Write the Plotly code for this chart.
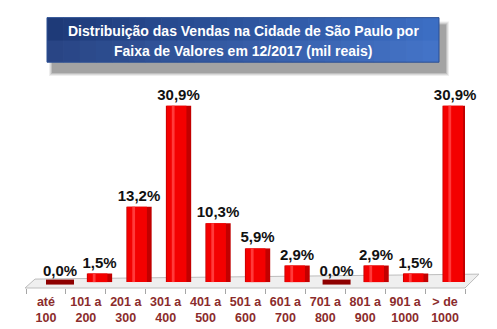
import plotly.graph_objects as go

# ---- data ----
categories = ["até<br>100", "101 a<br>200", "201 a<br>300", "301 a<br>400", "401 a<br>500",
              "501 a<br>600", "601 a<br>700", "701 a<br>800", "801 a<br>900", "901 a<br>1000",
              "> de<br>1000"]
values = [0.0, 1.5, 13.2, 30.9, 10.3, 5.9, 2.9, 0.0, 2.9, 1.5, 30.9]
value_labels = [f"{v:.1f}".replace(".", ",") + "%" for v in values]
title_lines = ["Distribuição das Vendas na Cidade de São Paulo por",
               "Faixa de Valores em 12/2017 (mil reais)"]

W, H = 497, 329
PX0, PX1, PY0, PY1 = 18, 457, 74, 282   # plot area in pixels


def px(x):
    return (x - PX0) / (PX1 - PX0)


def py(y):
    return (PY1 - y) / (PY1 - PY0)


fig = go.Figure()

# cylinder-like shading: dark body, bright core, light highlight
fig.add_trace(go.Bar(
    x=categories, y=values, text=value_labels, textposition="outside",
    constraintext="none", width=0.64,
    textfont=dict(family="Liberation Sans, Arial", size=15, color="#111111", weight="bold"),
    marker=dict(color="#C20000", line=dict(width=0)),
    cliponaxis=False, hoverinfo="skip", showlegend=False,
))
fig.add_trace(go.Bar(
    x=categories, y=values, width=0.50, offset=-0.30,
    marker=dict(color="#F40000", line=dict(width=0)),
    hoverinfo="skip", showlegend=False,
))
fig.add_trace(go.Bar(
    x=categories, y=values, width=0.07, offset=-0.17,
    marker=dict(color="#FF3A3A", line=dict(width=0)),
    hoverinfo="skip", showlegend=False,
))

# flat discs for zero-valued categories
zx = [c for c, v in zip(categories, values) if v == 0]
zy = [v for v in values if v == 0]
fig.add_trace(go.Scatter(
    x=zx, y=zy, mode="markers",
    marker=dict(symbol="line-ew", size=20, line=dict(color="#8E0000", width=5)),
    cliponaxis=False, hoverinfo="skip", showlegend=False,
))

# helper trace for the front tick axis
fig.add_trace(go.Scatter(
    x=categories, y=values, xaxis="x2", mode="markers",
    marker=dict(opacity=0), hoverinfo="skip", showlegend=False,
))

shapes = []
# floor
shapes.append(dict(
    type="path", xref="paper", yref="paper", layer="below",
    path=(f"M {px(17)} {py(282)} L {px(457)} {py(282)} L {px(471)} {py(268)} "
          f"L {px(27)} {py(273)} Z"),
    fillcolor="#EFEFEF", line=dict(color="#BDBDBD", width=1),
))
# title shadow
for i, op in enumerate([0.10, 0.14, 0.20, 0.28]):
    shapes.append(dict(type="rect", xref="paper", yref="paper", layer="below",
                       x0=px(41 + i), x1=px(441 - i), y0=py(13 + i), y1=py(68 - i),
                       fillcolor=f"rgba(90,90,90,{op})", line=dict(width=0)))
# title box gradient
n = 24
x_start, x_end = 39, 431
c0 = (30, 58, 120)
c1 = (60, 110, 195)
for i in range(n):
    t = i / (n - 1)
    col = tuple(int(round(a + (b - a) * t)) for a, b in zip(c0, c1))
    xa = x_start + (x_end - x_start) * i / n
    xb = x_start + (x_end - x_start) * (i + 1) / n + 0.6
    shapes.append(dict(type="rect", xref="paper", yref="paper",
                       x0=px(xa), x1=px(min(xb, x_end)), y0=py(54), y1=py(9),
                       fillcolor=f"rgb{col}", line=dict(width=0)))
shapes.append(dict(type="rect", xref="paper", yref="paper",
                   x0=px(x_start), x1=px(x_end), y0=py(54), y1=py(32),
                   fillcolor="rgba(120,160,230,0.12)", line=dict(width=0)))
shapes.append(dict(type="rect", xref="paper", yref="paper",
                   x0=px(x_start), x1=px(x_end), y0=py(54), y1=py(9),
                   fillcolor="rgba(0,0,0,0)", line=dict(color="#2B4F93", width=1)))

title_font = dict(family="Liberation Sans, Arial", size=14, color="white", weight="bold")
annotations = [
    dict(text=title_lines[0], xref="paper", yref="paper", x=px(235), y=py(22),
         showarrow=False, xanchor="center", yanchor="middle", font=title_font),
    dict(text=title_lines[1], xref="paper", yref="paper", x=px(235), y=py(43),
         showarrow=False, xanchor="center", yanchor="middle", font=title_font),
]

fig.update_layout(
    width=W, height=H,
    margin=dict(l=PX0, r=W - PX1, t=PY0, b=H - PY1, pad=0),
    paper_bgcolor="white", plot_bgcolor="rgba(0,0,0,0)",
    barmode="overlay",
    shapes=shapes, annotations=annotations,
    xaxis=dict(type="category", categoryorder="array", categoryarray=categories,
               range=[-0.86, 10.25], showticklabels=False, ticks="",
               showgrid=False, zeroline=False, showline=False),
    xaxis2=dict(type="category", categoryorder="array", categoryarray=categories,
                overlaying="x", side="bottom", range=[-0.5, 10.5],
                tickson="boundaries", ticks="outside", ticklen=5, tickangle=0,
                tickcolor="#A6A6A6", showline=False, showgrid=False,
                zeroline=False, ticklabelstandoff=4,
                tickfont=dict(family="Liberation Sans, Arial", size=12.5,
                              color="#8B2C2C", weight="bold")),
    yaxis=dict(range=[-1.04, 35.07], visible=False, showgrid=False, zeroline=False),
    font=dict(family="Liberation Sans, Arial"),
)

fig.write_html("out.html")
